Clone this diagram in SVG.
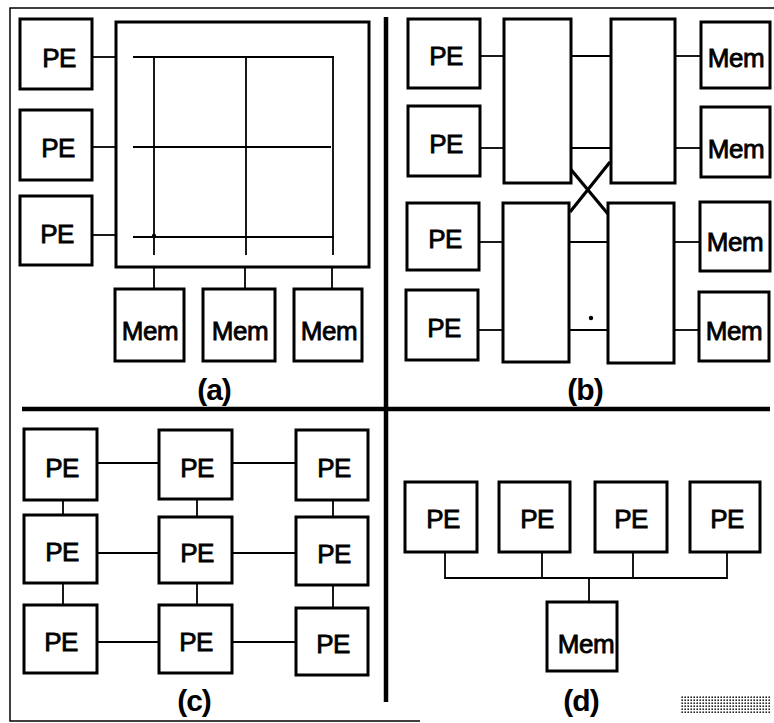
<svg xmlns="http://www.w3.org/2000/svg" width="774" height="723" viewBox="0 0 774 723">
<style>
.box{fill:#fff;stroke:#000;stroke-width:3}
.t{font-family:"Liberation Sans",Arial,Helvetica,sans-serif;font-size:26px;text-anchor:middle;fill:#000;stroke:#000;stroke-width:0.8;letter-spacing:-0.5px}
.lbl{font-family:"Liberation Sans",Arial,Helvetica,sans-serif;font-size:30px;font-weight:bold;text-anchor:middle;fill:#000;letter-spacing:-1px}
.ln{stroke:#000;stroke-width:1.8;fill:none}
.div{stroke:#000;stroke-width:4.5;fill:none}
</style>
<defs>
<pattern id="dots" width="3" height="3" patternUnits="userSpaceOnUse">
<rect width="3" height="3" fill="#fff"/>
<circle cx="1.2" cy="1.2" r="0.9" fill="#222"/>
</pattern>
</defs>
<rect width="774" height="723" fill="#fff"/>
<path d="M774 8 H10 V721 H420" stroke="#000" stroke-width="1.5" fill="none"/>
<g id="dividers">
<line class="div" x1="386" y1="17" x2="386" y2="702"/>
<line class="div" x1="22" y1="409" x2="770" y2="409"/>
</g>
<g id="connectors">
<line class="ln" x1="92" y1="57" x2="116" y2="57"/>
<line class="ln" x1="92" y1="147" x2="116" y2="147"/>
<line class="ln" x1="92" y1="235" x2="116" y2="235"/>
<line class="ln" x1="133" y1="57" x2="334" y2="57"/>
<line class="ln" x1="133" y1="147" x2="331" y2="147"/>
<line class="ln" x1="133" y1="237" x2="334" y2="237"/>
<line class="ln" x1="154" y1="57" x2="154" y2="255"/>
<line class="ln" x1="246" y1="57" x2="246" y2="255"/>
<line class="ln" x1="333" y1="57" x2="333" y2="255"/>
<circle cx="154" cy="236" r="2.2" fill="#000"/>
<line class="ln" x1="154" y1="267" x2="154" y2="289"/>
<line class="ln" x1="245" y1="267" x2="245" y2="289"/>
<line class="ln" x1="332" y1="267" x2="332" y2="289"/>
<line class="ln" x1="480" y1="56" x2="504" y2="56"/>
<line class="ln" x1="571" y1="56" x2="611" y2="56"/>
<line class="ln" x1="675" y1="56" x2="701" y2="56"/>
<line class="ln" x1="480" y1="148" x2="504" y2="148"/>
<line class="ln" x1="571" y1="148" x2="611" y2="148"/>
<line class="ln" x1="675" y1="148" x2="701" y2="148"/>
<line class="ln" x1="479" y1="242" x2="503" y2="242"/>
<line class="ln" x1="569" y1="242" x2="608" y2="242"/>
<line class="ln" x1="674" y1="242" x2="700" y2="242"/>
<line class="ln" x1="478" y1="330" x2="503" y2="330"/>
<line class="ln" x1="569" y1="330" x2="608" y2="330"/>
<line class="ln" x1="674" y1="330" x2="699" y2="330"/>
<line stroke="#000" stroke-width="3.2" x1="563" y1="160" x2="608" y2="214"/>
<line stroke="#000" stroke-width="3.2" x1="570" y1="212" x2="610" y2="162"/>
<circle cx="591" cy="318" r="2.2" fill="#000"/>
<line class="ln" x1="97" y1="463" x2="159" y2="463"/>
<line class="ln" x1="232" y1="463" x2="296" y2="463"/>
<line class="ln" x1="97" y1="553" x2="159" y2="553"/>
<line class="ln" x1="232" y1="553" x2="296" y2="553"/>
<line class="ln" x1="97" y1="642" x2="159" y2="642"/>
<line class="ln" x1="232" y1="642" x2="296" y2="642"/>
<line class="ln" x1="63" y1="500" x2="63" y2="515"/>
<line class="ln" x1="63" y1="583" x2="63" y2="605"/>
<line class="ln" x1="197" y1="499" x2="197" y2="517"/>
<line class="ln" x1="197" y1="583" x2="197" y2="605"/>
<line class="ln" x1="333" y1="500" x2="333" y2="517"/>
<line class="ln" x1="333" y1="585" x2="333" y2="608"/>
<path class="ln" d="M445 552 V578 H727 V552 M542 552 V578 M633 552 V578 M589 578 V602"/>
</g>
<g id="panel-a">
<g id="a-pe1"><rect class="box" x="20" y="19" width="72" height="70"/><text class="t" x="59" y="67">PE</text></g>
<g id="a-pe2"><rect class="box" x="20" y="110" width="72" height="70"/><text class="t" x="58" y="157">PE</text></g>
<g id="a-pe3"><rect class="box" x="20" y="196" width="72" height="69"/><text class="t" x="57" y="243">PE</text></g>
<g id="a-xbar"><rect class="box" x="116" y="22" width="253" height="245" style="fill:none"/></g>
<g id="a-mem1"><rect class="box" x="115" y="289" width="69" height="72"/><text class="t" x="150" y="340">Mem</text></g>
<g id="a-mem2"><rect class="box" x="203" y="289" width="72" height="72"/><text class="t" x="240" y="340">Mem</text></g>
<g id="a-mem3"><rect class="box" x="294" y="289" width="68" height="72"/><text class="t" x="329" y="340">Mem</text></g>
<text class="lbl" x="214" y="400">(a)</text>
</g>
<g id="panel-b">
<g id="b-pe1"><rect class="box" x="408" y="19" width="72" height="69"/><text class="t" x="446" y="65">PE</text></g>
<g id="b-pe2"><rect class="box" x="408" y="106" width="72" height="70"/><text class="t" x="446" y="153">PE</text></g>
<g id="b-pe3"><rect class="box" x="407" y="203" width="72" height="67"/><text class="t" x="445" y="248">PE</text></g>
<g id="b-pe4"><rect class="box" x="406" y="290" width="72" height="70"/><text class="t" x="444" y="337">PE</text></g>
<g id="b-sw1"><rect class="box" x="504" y="19" width="67" height="164"/></g>
<g id="b-sw2"><rect class="box" x="611" y="19" width="64" height="164"/></g>
<g id="b-sw3"><rect class="box" x="503" y="203" width="66" height="159"/></g>
<g id="b-sw4"><rect class="box" x="608" y="203" width="66" height="160"/></g>
<g id="b-mem1"><rect class="box" x="701" y="22" width="69" height="66"/><text class="t" x="736" y="67">Mem</text></g>
<g id="b-mem2"><rect class="box" x="701" y="107" width="69" height="70"/><text class="t" x="736" y="158">Mem</text></g>
<g id="b-mem3"><rect class="box" x="700" y="202" width="70" height="69"/><text class="t" x="735" y="251">Mem</text></g>
<g id="b-mem4"><rect class="box" x="699" y="292" width="70" height="69"/><text class="t" x="734" y="340">Mem</text></g>
<text class="lbl" x="585" y="400">(b)</text>
</g>
<g id="panel-c">
<g id="c-pe11"><rect class="box" x="24" y="429" width="73" height="71"/><text class="t" x="62" y="477">PE</text></g>
<g id="c-pe12"><rect class="box" x="159" y="430" width="73" height="69"/><text class="t" x="197" y="477">PE</text></g>
<g id="c-pe13"><rect class="box" x="296" y="430" width="72" height="70"/><text class="t" x="334" y="477">PE</text></g>
<g id="c-pe21"><rect class="box" x="24" y="515" width="73" height="68"/><text class="t" x="62" y="561">PE</text></g>
<g id="c-pe22"><rect class="box" x="159" y="517" width="73" height="66"/><text class="t" x="197" y="562">PE</text></g>
<g id="c-pe23"><rect class="box" x="296" y="517" width="72" height="68"/><text class="t" x="334" y="563">PE</text></g>
<g id="c-pe31"><rect class="box" x="24" y="605" width="73" height="68"/><text class="t" x="61" y="651">PE</text></g>
<g id="c-pe32"><rect class="box" x="159" y="605" width="73" height="68"/><text class="t" x="196" y="651">PE</text></g>
<g id="c-pe33"><rect class="box" x="296" y="608" width="72" height="67"/><text class="t" x="333" y="653">PE</text></g>
<text class="lbl" x="194" y="711">(c)</text>
</g>
<g id="panel-d">
<g id="d-pe1"><rect class="box" x="405" y="482" width="72" height="70"/><text class="t" x="443" y="528">PE</text></g>
<g id="d-pe2"><rect class="box" x="499" y="482" width="71" height="70"/><text class="t" x="537" y="528">PE</text></g>
<g id="d-pe3"><rect class="box" x="595" y="482" width="72" height="70"/><text class="t" x="631" y="528">PE</text></g>
<g id="d-pe4"><rect class="box" x="690" y="482" width="70" height="70"/><text class="t" x="727" y="528">PE</text></g>
<g id="d-mem"><rect class="box" x="547" y="602" width="70" height="69"/><text class="t" x="586" y="653">Mem</text></g>
<text class="lbl" x="581" y="711">(d)</text>
</g>
<rect x="680" y="696" width="91" height="17" fill="url(#dots)"/>
</svg>
